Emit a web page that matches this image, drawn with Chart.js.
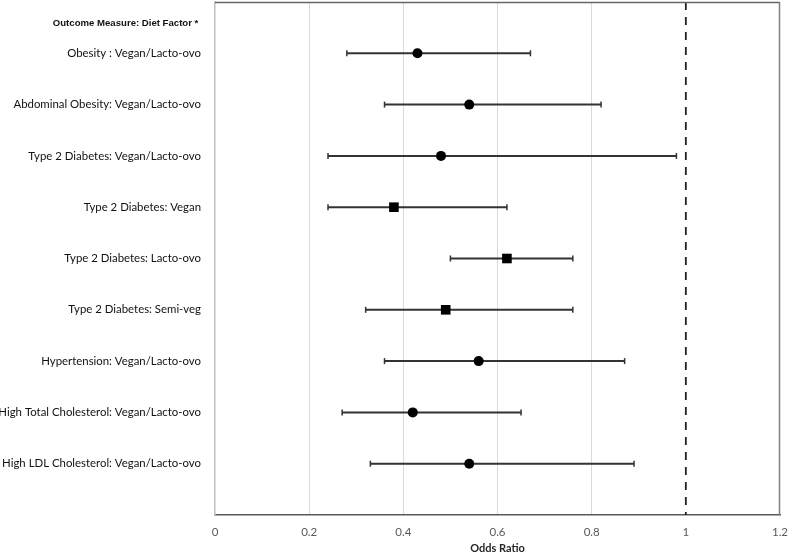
<!DOCTYPE html>
<html>
<head>
<meta charset="utf-8">
<script src="https://cdn.jsdelivr.net/npm/chart.js@4"></script>
<style>
  html, body { margin: 0; padding: 0; background: #ffffff; }
  #wrap { width: 789px; height: 554px; }
</style>
</head>
<body>
<div id="wrap"><canvas id="c" width="789" height="554"></canvas></div>
<script>
// ---- Data ----
const headerLabel = 'Outcome Measure: Diet Factor *';
const categories = [
  'Obesity : Vegan/Lacto-ovo',
  'Abdominal Obesity: Vegan/Lacto-ovo',
  'Type 2 Diabetes: Vegan/Lacto-ovo',
  'Type 2 Diabetes: Vegan',
  'Type 2 Diabetes: Lacto-ovo',
  'Type 2 Diabetes: Semi-veg',
  'Hypertension: Vegan/Lacto-ovo',
  'High Total Cholesterol: Vegan/Lacto-ovo',
  'High LDL Cholesterol: Vegan/Lacto-ovo'
];
const oddsRatios = [0.43, 0.54, 0.48, 0.38, 0.62, 0.49, 0.56, 0.42, 0.54];
const ciLower    = [0.28, 0.36, 0.24, 0.24, 0.50, 0.32, 0.36, 0.27, 0.33];
const ciUpper    = [0.67, 0.82, 0.98, 0.62, 0.76, 0.76, 0.87, 0.65, 0.89];
const markerKinds = ['circle', 'circle', 'circle', 'rect', 'rect', 'rect', 'circle', 'circle', 'circle'];
const xTickValues = [0, 0.2, 0.4, 0.6, 0.8, 1, 1.2];
const referenceOR = 1;

// ---- Layout helpers ----
const rowPos = categories.map((_, i) => i + 1);   // category rows on y scale
const headerPos = 0.41;
const yMin = 0, yMax = 10;

const datasets = [];

// point estimates
datasets.push({
  type: 'scatter',
  label: 'OR',
  order: 0,
  data: categories.map((_, i) => ({ x: oddsRatios[i], y: rowPos[i] })),
  pointStyle: markerKinds,
  pointRadius: markerKinds.map(k => k === 'rect' ? 6.8 : 5),
  pointBackgroundColor: '#000000',
  pointBorderColor: '#000000',
  pointBorderWidth: 0,
  pointHoverRadius: 0
});

// confidence intervals
categories.forEach((_, i) => {
  datasets.push({
    type: 'line',
    label: 'CI ' + i,
    order: 1,
    data: [{ x: ciLower[i], y: rowPos[i] }, { x: ciUpper[i], y: rowPos[i] }],
    borderColor: '#333333',
    borderWidth: 2,
    pointStyle: 'line',
    pointRotation: 90,
    pointRadius: 3,
    pointBorderColor: '#333333',
    pointBorderWidth: 1.5,
    pointHoverRadius: 0,
    fill: false
  });
});

// reference line at OR = 1
datasets.push({
  type: 'line',
  label: 'ref',
  order: 2,
  data: [{ x: referenceOR, y: yMin }, { x: referenceOR, y: yMax }],
  borderColor: '#222222',
  borderWidth: 1.8,
  borderDash: [8, 7],
  pointRadius: 0,
  fill: false
});

const frame = {
  id: 'frame',
  afterDatasetsDraw(chart) {
    const a = chart.chartArea, ctx = chart.ctx;
    ctx.save();
    ctx.lineWidth = 1.5;
    ctx.strokeStyle = '#666666';
    ctx.beginPath();
    ctx.moveTo(a.left, a.top + 0.5);
    ctx.lineTo(a.right, a.top + 0.5);
    ctx.stroke();
    ctx.strokeStyle = '#808080';
    ctx.beginPath();
    ctx.moveTo(a.right - 0.5, a.top);
    ctx.lineTo(a.right - 0.5, a.bottom);
    ctx.stroke();
    ctx.restore();
  }
};

new Chart(document.getElementById('c'), {
  type: 'scatter',
  data: { datasets },
  options: {
    responsive: false,
    animation: false,
    events: [],
    layout: { autoPadding: false, padding: { top: 2, right: 9, left: 0, bottom: 0 } },
    plugins: { legend: { display: false }, tooltip: { enabled: false }, title: { display: false } },
    scales: {
      x: {
        type: 'linear',
        min: 0,
        max: 1.2,
        afterBuildTicks: s => { s.ticks = xTickValues.map(v => ({ value: v })); },
        afterFit: s => { s.height = 39; s.paddingLeft = 0; s.paddingRight = 0; },
        grid: {
          drawTicks: false,
          lineWidth: 1,
          color: c => (c.tick && c.tick.value > 0.05 && c.tick.value < 0.95) ? '#d9d9d9' : 'rgba(0,0,0,0)'
        },
        border: { display: true, color: '#595959', width: 1.5 },
        ticks: {
          padding: 10,
          color: '#595959',
          font: { family: 'Lato', size: 11.5 },
          callback: v => String(Number(v.toFixed(1)))
        },
        title: {
          display: true,
          text: 'Odds Ratio',
          color: '#262626',
          font: { family: 'Lato', size: 11, weight: 'bold', lineHeight: 1.0 },
          padding: 0
        }
      },
      y: {
        type: 'linear',
        reverse: true,
        min: yMin,
        max: yMax,
        afterBuildTicks: s => {
          s.ticks = [{ value: headerPos }].concat(rowPos.map(v => ({ value: v })));
        },
        afterFit: s => { s.width = 215; s.paddingTop = 0; s.paddingBottom = 0; },
        grid: { display: false, drawTicks: false },
        border: { display: true, color: '#bfbfbf', width: 1.5 },
        ticks: {
          padding: 14,
          autoSkip: false,
          color: '#111111',
          font: c => (c.tick && Math.abs(c.tick.value - headerPos) < 0.01)
            ? { family: 'Liberation Sans', size: 9.6, weight: 'bold' }
            : { family: 'Lato', size: 11.4 },
          callback: v => {
            if (Math.abs(v - headerPos) < 0.01) return headerLabel + ' ';
            const idx = rowPos.indexOf(v);
            return idx >= 0 ? categories[idx] : '';
          }
        }
      }
    }
  },
  plugins: [frame]
});
</script>
</body>
</html>
